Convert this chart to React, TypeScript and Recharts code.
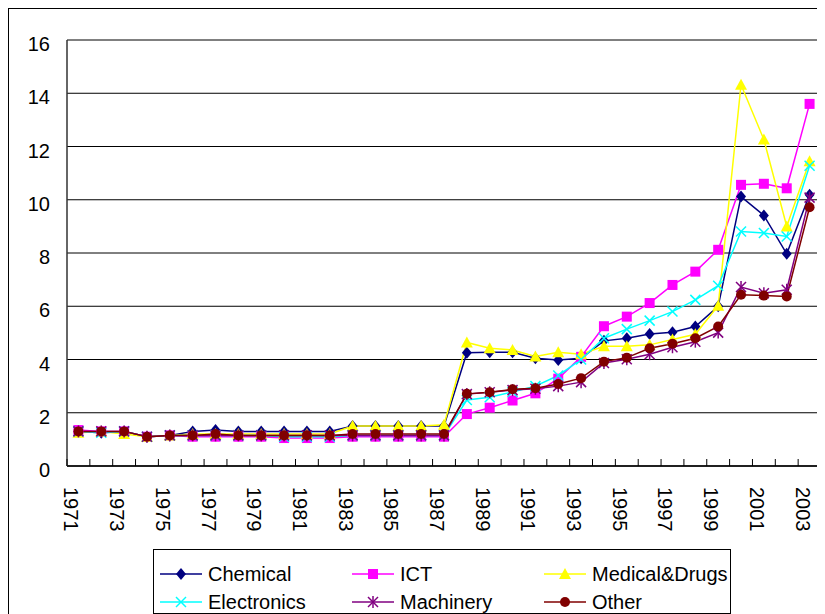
import React from 'react';
import { LineChart, Line, XAxis, YAxis, CartesianGrid, Legend } from 'recharts';

// categories
const years = [
  '1971', '1972', '1973', '1974', '1975', '1976', '1977', '1978', '1979', '1980', '1981',
  '1982', '1983', '1984', '1985', '1986', '1987', '1988', '1989', '1990', '1991', '1992',
  '1993', '1994', '1995', '1996', '1997', '1998', '1999', '2000', '2001', '2002', '2003',
];

// series values
const chemical = [
  1.3, 1.25, 1.3, 1.1, 1.15, 1.3, 1.35, 1.3, 1.3, 1.3, 1.3, 1.3, 1.5, 1.5, 1.5, 1.5, 1.5,
  4.25, 4.27, 4.27, 4.05, 3.98, 4.05, 4.7, 4.8, 4.96, 5.02, 5.24, 6.0, 10.12, 9.41, 7.97, 10.19,
];
const ict = [
  1.35, 1.3, 1.3, 1.1, 1.15, 1.1, 1.1, 1.1, 1.1, 1.05, 1.05, 1.05, 1.1, 1.1, 1.1, 1.1, 1.1,
  1.95, 2.19, 2.46, 2.73, 3.28, 4.1, 5.25, 5.61, 6.12, 6.8, 7.3, 8.12, 10.56, 10.6, 10.43, 13.6,
];
const medical = [
  1.25, 1.3, 1.2, 1.1, 1.15, 1.2, 1.2, 1.2, 1.2, 1.2, 1.2, 1.2, 1.5, 1.5, 1.5, 1.5, 1.55,
  4.64, 4.42, 4.36, 4.11, 4.27, 4.2, 4.5, 4.5, 4.55, 4.75, 4.95, 6.02, 14.32, 12.26, 9.0, 11.45,
];
const electronics = [
  1.3, 1.25, 1.3, 1.1, 1.15, 1.15, 1.15, 1.15, 1.15, 1.1, 1.1, 1.1, 1.15, 1.15, 1.15, 1.15, 1.15,
  2.48, 2.58, 2.78, 3.0, 3.4, 4.0, 4.8, 5.14, 5.46, 5.8, 6.24, 6.77, 8.81, 8.75, 8.62, 11.28,
];
const machinery = [
  1.3, 1.3, 1.3, 1.1, 1.15, 1.15, 1.15, 1.15, 1.15, 1.15, 1.15, 1.15, 1.15, 1.15, 1.15, 1.15, 1.15,
  2.7, 2.77, 2.85, 2.9, 3.0, 3.15, 3.87, 4.01, 4.2, 4.46, 4.67, 5.01, 6.72, 6.49, 6.62, 10.08,
];
const other = [
  1.3, 1.3, 1.3, 1.1, 1.15, 1.15, 1.2, 1.15, 1.15, 1.15, 1.15, 1.15, 1.2, 1.2, 1.2, 1.2, 1.2,
  2.71, 2.77, 2.88, 2.92, 3.08, 3.3, 3.92, 4.07, 4.42, 4.59, 4.8, 5.24, 6.43, 6.4, 6.37, 9.72,
];

const yTicks = [0, 2, 4, 6, 8, 10, 12, 14, 16];

const data = years.map((year, i) => ({
  year,
  chemical: chemical[i],
  ict: ict[i],
  medical: medical[i],
  electronics: electronics[i],
  machinery: machinery[i],
  other: other[i],
}));

type Shape = 'diamond' | 'square' | 'triangle' | 'cross' | 'star' | 'circle';

const series: { key: string; name: string; color: string; shape: Shape }[] = [
  { key: 'chemical', name: 'Chemical', color: '#000080', shape: 'diamond' },
  { key: 'ict', name: 'ICT', color: '#ff00ff', shape: 'square' },
  { key: 'medical', name: 'Medical&Drugs', color: '#ffff00', shape: 'triangle' },
  { key: 'electronics', name: 'Electronics', color: '#00ffff', shape: 'cross' },
  { key: 'machinery', name: 'Machinery', color: '#800080', shape: 'star' },
  { key: 'other', name: 'Other', color: '#800000', shape: 'circle' },
];

const CHART_W = 816;
const CHART_H = 605;
const MARGIN = { top: 31, right: 4, left: 0, bottom: 0 };
const Y_W = 58;
const PLOT_W = CHART_W - Y_W - MARGIN.right - MARGIN.left;
const STEP = PLOT_W / years.length;
const LEGEND_H = 65;
const X_H = 148 - LEGEND_H;
const FONT = '"Liberation Sans", Arial, sans-serif';

function Marker({ cx, cy, color, shape }: { cx: number; cy: number; color: string; shape: Shape }) {
  switch (shape) {
    case 'diamond':
      return <polygon points={`${cx},${cy - 6} ${cx + 5},${cy} ${cx},${cy + 6} ${cx - 5},${cy}`} fill={color} />;
    case 'square':
      return <rect x={cx - 5} y={cy - 5} width={10} height={10} fill={color} />;
    case 'triangle':
      return <polygon points={`${cx},${cy - 6} ${cx + 6},${cy + 5} ${cx - 6},${cy + 5}`} fill={color} />;
    case 'cross':
      return (
        <g stroke={color} strokeWidth={1.5}>
          <line x1={cx - 5} y1={cy - 5} x2={cx + 5} y2={cy + 5} />
          <line x1={cx - 5} y1={cy + 5} x2={cx + 5} y2={cy - 5} />
        </g>
      );
    case 'star':
      return (
        <g stroke={color} strokeWidth={1.5}>
          <line x1={cx - 5} y1={cy - 5} x2={cx + 5} y2={cy + 5} />
          <line x1={cx - 5} y1={cy + 5} x2={cx + 5} y2={cy - 5} />
          <line x1={cx} y1={cy - 6} x2={cx} y2={cy + 6} />
        </g>
      );
    default:
      return <circle cx={cx} cy={cy} r={5} fill={color} />;
  }
}

const XTick = (props: any) => {
  const { x, y, payload, index } = props;
  const bx = x - STEP / 2;
  return (
    <g>
      <line x1={bx} y1={y} x2={bx} y2={y - 7} stroke="#000" />
      {index === years.length - 1 && <line x1={x + STEP / 2} y1={y} x2={x + STEP / 2} y2={y - 7} stroke="#000" />}
      {index % 2 === 0 && (
        <text
          transform={`translate(${x - 7},${y + 21}) rotate(90)`}
          fontSize={20}
          fontFamily={FONT}
          fill="#000"
          dominantBaseline="central"
        >
          {payload.value}
        </text>
      )}
    </g>
  );
};

const YTick = (props: any) => {
  const { x, y, payload } = props;
  return (
    <text x={x} y={y + 4} textAnchor="end" dominantBaseline="central" fontSize={20} fontFamily={FONT} fill="#000">
      {payload.value}
    </text>
  );
};

const renderLegend = () => (
  <div
    style={{
      boxSizing: 'border-box',
      width: 578,
      height: LEGEND_H,
      border: '1px solid #000',
      position: 'relative',
      fontFamily: FONT,
      fontSize: 20,
      background: '#fff',
    }}
  >
    {series.map((s, i) => {
      const col = i % 3;
      const row = Math.floor(i / 3);
      return (
        <div
          key={s.key}
          style={{
            position: 'absolute',
            left: 6 + col * 192,
            top: 10 + row * 28,
            height: 28,
            display: 'flex',
            alignItems: 'center',
            whiteSpace: 'nowrap',
          }}
        >
          <svg width={42} height={16} style={{ marginRight: 6 }}>
            <line x1={0} y1={8} x2={42} y2={8} stroke={s.color} strokeWidth={1.5} />
            <Marker cx={21} cy={8} color={s.color} shape={s.shape} />
          </svg>
          <span>{s.name}</span>
        </div>
      );
    })}
  </div>
);

export default function App() {
  return (
    <div
      style={{
        position: 'relative',
        width: CHART_W,
        height: CHART_H,
        borderLeft: '1px solid #000',
        borderTop: '1px solid #000',
        background: '#fff',
      }}
    >
      <LineChart width={CHART_W} height={CHART_H} data={data} margin={MARGIN}>
        <CartesianGrid vertical={false} stroke="#000" />
        <XAxis
          dataKey="year"
          interval={0}
          height={X_H}
          padding={{ left: STEP / 2, right: STEP / 2 }}
          tickSize={0}
          tickMargin={0}
          tickLine={false}
          tick={<XTick />}
          axisLine={{ stroke: '#000', strokeWidth: 1.5 }}
        />
        <XAxis xAxisId="top" orientation="top" dataKey="year" height={0} tick={false} tickLine={false} axisLine={{ stroke: '#888' }} />
        <YAxis
          domain={[0, 16]}
          ticks={yTicks}
          width={Y_W}
          tickSize={0}
          tickMargin={17}
          tickLine={false}
          tick={<YTick />}
          axisLine={{ stroke: '#333', strokeWidth: 1.5 }}
          interval={0}
        />
        <YAxis yAxisId="right" orientation="right" domain={[0, 16]} width={0} tick={false} tickLine={false} axisLine={{ stroke: '#888', strokeWidth: 1.5 }} />
        <Legend
          content={renderLegend}
          verticalAlign="bottom"
          wrapperStyle={{ left: 144, top: 540, bottom: 'auto', width: 578, height: LEGEND_H }}
        />
        {series.map((s) => (
          <Line
            key={s.key}
            type="linear"
            dataKey={s.key}
            name={s.name}
            stroke={s.color}
            strokeWidth={1.5}
            isAnimationActive={false}
            dot={(p: any) => <Marker key={`${s.key}-${p.index}`} cx={p.cx} cy={p.cy} color={s.color} shape={s.shape} />}
            activeDot={false}
          />
        ))}
      </LineChart>
    </div>
  );
}
